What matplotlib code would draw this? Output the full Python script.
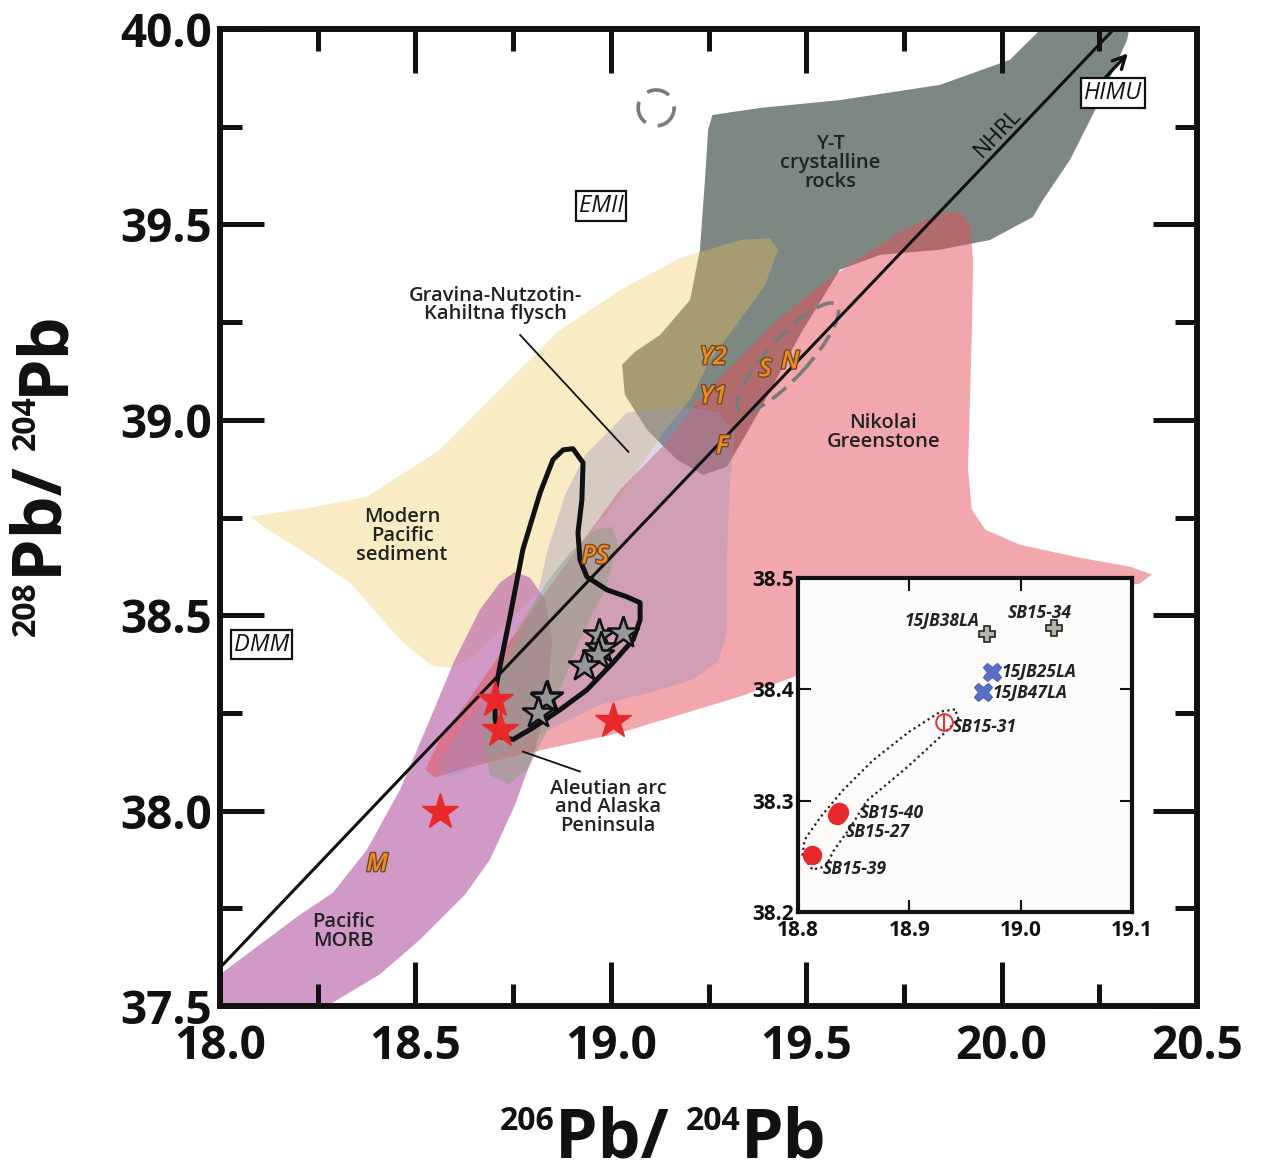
import numpy as np
import matplotlib.pyplot as plt
from matplotlib.patches import Polygon, Ellipse
import matplotlib.patheffects as pe

plt.rcParams['font.family'] = ['Open Sans', 'DejaVu Sans']

# ---- digitised fields: 206Pb/204Pb (x) vs 208Pb/204Pb (y) ----
yt_x = [19.260, 19.382, 19.586, 19.842, 20.021, 20.111, 20.329, 20.321, 20.252, 20.175,
        20.106, 20.080, 19.970, 19.842, 19.689, 19.586, 19.484, 19.382, 19.338, 19.297,
        19.236, 19.169, 19.093, 19.036, 19.029, 19.062, 19.126, 19.203, 19.228, 19.241, 19.249]
yt_y = [39.780, 39.798, 39.818, 39.857, 39.921, 40.010, 40.010, 39.972, 39.818, 39.665,
        39.563, 39.519, 39.460, 39.435, 39.422, 39.384, 39.217, 39.026, 38.949, 38.880,
        38.859, 38.898, 38.974, 39.064, 39.141, 39.174, 39.217, 39.307, 39.435, 39.614, 39.742]

sed_x = [18.077, 18.230, 18.376, 18.563, 18.716, 18.870, 19.024, 19.177, 19.331, 19.407,
         19.428, 19.395, 19.331, 19.254, 19.203, 19.139, 19.088, 18.998, 18.870, 18.742,
         18.640, 18.590, 18.540, 18.461, 18.333, 18.205, 18.115]
sed_y = [38.752, 38.775, 38.803, 38.923, 39.077, 39.230, 39.332, 39.414, 39.460, 39.465,
         39.435, 39.345, 39.256, 39.153, 39.051, 38.974, 38.898, 38.770, 38.616, 38.488,
         38.386, 38.365, 38.372, 38.437, 38.583, 38.668, 38.724]

morb_x = [18.000, 18.000, 18.102, 18.205, 18.289, 18.376, 18.461, 18.537, 18.601, 18.665,
          18.716, 18.755, 18.793, 18.832, 18.850, 18.839, 18.806, 18.755, 18.691, 18.627,
          18.512, 18.409, 18.289, 18.256]
morb_y = [37.491, 37.581, 37.657, 37.734, 37.790, 37.900, 38.054, 38.233, 38.386, 38.514,
          38.583, 38.611, 38.596, 38.540, 38.437, 38.284, 38.156, 38.015, 37.875, 37.785,
          37.670, 37.581, 37.509, 37.491]

nik_x = [18.525, 18.563, 18.627, 18.716, 18.819, 18.921, 19.024, 19.150, 19.228, 19.331,
         19.433, 19.553, 19.638, 19.740, 19.842, 19.894, 19.919, 19.927, 19.924, 19.919,
         19.914, 19.924, 19.958, 20.047, 20.201, 20.329, 20.385, 20.354, 20.252, 19.996,
         19.740, 19.484, 19.331, 19.024, 18.768, 18.614, 18.550]
nik_y = [38.105, 38.182, 38.271, 38.399, 38.540, 38.680, 38.821, 38.950, 39.056, 39.159,
         39.261, 39.358, 39.414, 39.481, 39.529, 39.532, 39.499, 39.409, 39.230, 39.051,
         38.872, 38.770, 38.719, 38.680, 38.647, 38.624, 38.604, 38.581, 38.565, 38.501,
         38.430, 38.348, 38.292, 38.199, 38.143, 38.105, 38.084]

grav_x = [18.563, 18.614, 18.691, 18.755, 18.806, 18.839, 18.883, 18.934, 19.041, 19.126,
          19.210, 19.279, 19.318, 19.305, 19.297, 19.297, 19.274, 19.210, 19.108, 18.972,
          18.793, 18.665, 18.589, 18.555]
grav_y = [38.125, 38.207, 38.309, 38.412, 38.527, 38.668, 38.808, 38.910, 39.018, 39.031,
          39.031, 39.018, 38.962, 38.847, 38.642, 38.455, 38.381, 38.335, 38.304, 38.271,
          38.182, 38.118, 38.087, 38.100]

aleu_x = [18.691, 18.676, 18.686, 18.716, 18.768, 18.832, 18.896, 18.960, 19.003, 19.018,
          18.985, 18.921, 18.870, 18.832, 18.788, 18.737]
aleu_y = [38.092, 38.169, 38.258, 38.361, 38.476, 38.578, 38.660, 38.719, 38.726, 38.680,
          38.565, 38.437, 38.309, 38.194, 38.105, 38.066]

# outlined field (black curve)
out_x = [18.878, 18.903, 18.929, 18.926, 18.916, 18.921, 18.939, 18.990, 19.041, 19.075,
         19.075, 19.057, 19.006, 18.939, 18.870, 18.801, 18.750, 18.716, 18.704, 18.704,
         18.716, 18.742, 18.775, 18.819, 18.852]
out_y = [38.923, 38.926, 38.890, 38.795, 38.711, 38.642, 38.598, 38.565, 38.547, 38.532,
         38.488, 38.437, 38.379, 38.309, 38.258, 38.212, 38.182, 38.189, 38.233, 38.302,
         38.368, 38.496, 38.668, 38.813, 38.898]

# NHRL line
nhrl_x = [18.0, 20.28]
nhrl_y = [37.598, 39.992]

# red stars (previous data)
red_x = [18.704, 18.716, 19.006, 18.563]
red_y = [38.284, 38.207, 38.228, 37.997]

# samples of this study (also shown in the inset)
sample_names = ['15JB38LA', 'SB15-34', '15JB25LA', '15JB47LA', 'SB15-31', 'SB15-40', 'SB15-27', 'SB15-39']
pb206 = [18.970, 19.030, 18.974, 18.966, 18.931, 18.837, 18.835, 18.813]
pb208 = [38.450, 38.455, 38.416, 38.398, 38.371, 38.290, 38.287, 38.251]

# dotted loop in inset
loop_x = [18.941, 18.928, 18.900, 18.867, 18.840, 18.820, 18.806, 18.804, 18.813, 18.825,
          18.832, 18.847, 18.862, 18.898, 18.935, 18.944]
loop_y = [38.382, 38.380, 38.362, 38.336, 38.309, 38.285, 38.265, 38.251, 38.238, 38.241,
          38.255, 38.276, 38.300, 38.330, 38.364, 38.374]

fig = plt.figure(figsize=(12.63, 11.73), dpi=100)
ax = fig.add_axes([220/1263, 1-1006/1173, 977/1263, 977/1173])

def field(xs, ys, fc, alpha, z):
    ax.add_patch(Polygon(np.column_stack([xs, ys]), closed=True, fc=fc, ec='none', alpha=alpha, zorder=z))

field(yt_x, yt_y, '#7d8882', 1.0, 1)
field(sed_x, sed_y, '#f0c654', 0.35, 2)
field(morb_x, morb_y, '#be6eaf', 0.7, 3)
field(nik_x, nik_y, '#e6505a', 0.5, 4)
field(grav_x, grav_y, '#9691c3', 0.35, 5)
field(aleu_x, aleu_y, '#8ca082', 0.5, 6)

ax.add_patch(Polygon(np.column_stack([out_x, out_y]), closed=True, fc='none', ec='#111111',
                     lw=3.6, joinstyle='round', zorder=8))
ax.plot(nhrl_x, nhrl_y, color='#111111', lw=2.2, zorder=9)

# dashed fields
ax.add_patch(Ellipse((19.116, 39.798), 0.092, 0.092, angle=20, fill=False, ec='#7a7a7a', lw=2.6,
                     linestyle=(0, (6.5, 3.5)), zorder=7))
ax.add_patch(Ellipse((19.453, 39.159), 0.368, 0.102, angle=47.5, fill=False, ec='#7a7a7a',
                     lw=2.6, linestyle=(0, (5, 2.5)), zorder=7))

ax.plot(pb206, pb208, ls='none', marker='*', ms=24, mfc='#96969b', mec='#111111', mew=1.8, zorder=10)
ax.plot(red_x, red_y, ls='none', marker='*', ms=27, mfc='#e8292b', mec='#e8292b', zorder=10)

# leader lines
ax.plot([18.768, 19.045], [39.217, 38.918], color='#111111', lw=1.3, zorder=9)
ax.plot([18.775, 18.921], [38.151, 38.100], color='#111111', lw=1.3, zorder=9)

txt = dict(ha='center', va='center', fontsize=14.5, weight='semibold', color='#222222',
           linespacing=0.92, zorder=12)
ax.text(19.561, 39.657, 'Y-T\ncrystalline\nrocks', **txt)
ax.text(18.704, 39.294, 'Gravina-Nutzotin-\nKahiltna flysch', **txt)
ax.text(18.466, 38.703, 'Modern\nPacific\nsediment', **txt)
ax.text(19.697, 38.967, 'Nikolai\nGreenstone', **txt)
ax.text(18.993, 38.008, 'Aleutian arc\nand Alaska\nPeninsula', **txt)
ax.text(18.315, 37.690, 'Pacific\nMORB', **txt)
ax.text(19.991, 39.734, 'NHRL', ha='center', va='center', fontsize=16, rotation=46.4,
        color='#111111', zorder=12)

box = dict(boxstyle='square,pad=0.12', fc='white', ec='#111111', lw=1.6)
for x, y, s in [(18.107, 38.425, 'DMM'), (18.975, 39.547, 'EMII'), (20.285, 39.836, 'HIMU')]:
    ax.text(x, y, s, ha='center', va='center', fontsize=17, style='italic', color='#111111',
            bbox=box, zorder=12)
ax.annotate('', xy=(20.328, 39.943), xytext=(20.262, 39.872),
            arrowprops=dict(arrowstyle='->,head_length=0.9,head_width=0.45', lw=2.4, color='#111111'),
            zorder=12)

orange = dict(ha='center', va='center', fontsize=18, style='italic', weight='semibold',
              color='#f28a22', zorder=12,
              path_effects=[pe.withStroke(linewidth=2.0, foreground='#6b4a2a')])
for x, y, s in [(19.262, 39.159, 'Y2'), (19.262, 39.059, 'Y1'), (19.395, 39.128, 'S'),
                (19.459, 39.148, 'N'), (19.285, 38.931, 'F'), (18.960, 38.650, 'PS'),
                (18.402, 37.862, 'M')]:
    ax.text(x, y, s, **orange)

ax.set_xlim(18.0, 20.5)
ax.set_ylim(37.5, 40.0)
ax.set_xticks(np.arange(18.0, 20.51, 0.5))
ax.set_yticks(np.arange(37.5, 40.01, 0.5))
ax.set_xticks(np.arange(18.25, 20.5, 0.5), minor=True)
ax.set_yticks(np.arange(37.75, 40.0, 0.5), minor=True)
ax.set_xticklabels(['18.0', '18.5', '19.0', '19.5', '20.0', '20.5'])
ax.set_yticklabels(['37.5', '38.0', '38.5', '39.0', '39.5', '40.0'])
ax.tick_params(which='both', direction='in', top=True, right=True, width=3.6, color='#111111')
ax.tick_params(which='major', length=32, labelsize=33)
ax.tick_params(which='minor', length=16)
ax.tick_params(axis='x', pad=12)
ax.tick_params(axis='y', pad=6)
for lab in ax.get_xticklabels() + ax.get_yticklabels():
    lab.set_fontweight('bold')
    lab.set_color('#111111')
for sp in ax.spines.values():
    sp.set_linewidth(4.3)
    sp.set_color('#111111')
    sp.set_zorder(15)
ax.xaxis.set_zorder(15)
ax.yaxis.set_zorder(15)

# axis titles built from pieces (small superscript mass numbers)
def chain(pieces, x0, y0, vertical=False):
    prev = None
    for s, size in pieces:
        kw = dict(fontsize=size, weight='bold', color='#111111')
        if prev is None:
            if vertical:
                prev = fig.text(x0, y0, s, rotation=90, ha='left', va='bottom', **kw)
            else:
                prev = fig.text(x0, y0, s, ha='left', va='top', **kw)
        elif vertical:
            prev = ax.annotate(s, xy=(0, 1), xycoords=prev, rotation=90, ha='left', va='bottom',
                               annotation_clip=False, **kw)
        else:
            prev = ax.annotate(s, xy=(1, 1), xycoords=prev, ha='left', va='top',
                               annotation_clip=False, **kw)

chain([('206', 23), ('Pb/ ', 49), ('204', 23), ('Pb', 49)], 500/1263, 1-1105/1173)
chain([('208', 23), ('Pb/ ', 49), ('204', 23), ('Pb', 49)], 10/1263, 1-636/1173, vertical=True)

# ---- inset ----
ins = fig.add_axes([798/1263, 1-912/1173, 334/1263, 334/1173], zorder=20)
ins.set_facecolor('#fdfcfa')
ins.plot(loop_x + loop_x[:1], loop_y + loop_y[:1], color='#222222', lw=1.6, ls=(0, (1, 1.5)), zorder=2)

ins.plot(pb206[:2], pb208[:2], ls='none', marker='P', ms=12, mfc='#b4b4a8', mec='#222222', mew=1.2, zorder=3)
ins.plot(pb206[2:4], pb208[2:4], ls='none', marker='X', ms=13, mfc='#5a70c8', mec='#4a5eb0', mew=0.8, zorder=3)
ins.plot(pb206[4], pb208[4], ls='none', marker='o', ms=12, mfc='none', mec='#e03030', mew=1.4, zorder=3)
ins.plot(pb206[4], pb208[4], ls='none', marker='|', ms=12, mec='#e03030', mew=1.4, zorder=3)
ins.plot(pb206[5:], pb208[5:], ls='none', marker='o', ms=13, mfc='#e8292b', mec='#e8292b', zorder=3)

offsets = [(-6, 9, 'right'), (-10, 11, 'center'), (7, 0, 'left'), (7, -1, 'left'),
           (6, -4, 'left'), (15, -1, 'left'), (6, -12, 'left'), (7, -10, 'left')]
for name, x, y, (dx, dy, ha) in zip(sample_names, pb206, pb208, offsets):
    ins.annotate(name, xy=(x, y), xytext=(dx, dy), textcoords='offset points', ha=ha,
                 va='center', fontsize=12.5, style='italic', weight='bold', color='#222222')

ins.set_xlim(18.8, 19.1)
ins.set_ylim(38.2, 38.5)
ins.set_xticks([18.8, 18.9, 19.0, 19.1])
ins.set_yticks([38.2, 38.3, 38.4, 38.5])
ins.set_xticklabels(['18.8', '18.9', '19.0', '19.1'])
ins.set_yticklabels(['38.2', '38.3', '38.4', '38.5'])
ins.tick_params(direction='in', top=True, right=True, length=9, width=1.5, labelsize=15,
                color='#111111')
ins.tick_params(axis='x', pad=6)
ins.tick_params(axis='y', pad=3)
for lab in ins.get_xticklabels() + ins.get_yticklabels():
    lab.set_fontweight('bold')
    lab.set_color('#111111')
for sp in ins.spines.values():
    sp.set_linewidth(3.0)
    sp.set_color('#111111')

fig.savefig('out.png', dpi=100)
